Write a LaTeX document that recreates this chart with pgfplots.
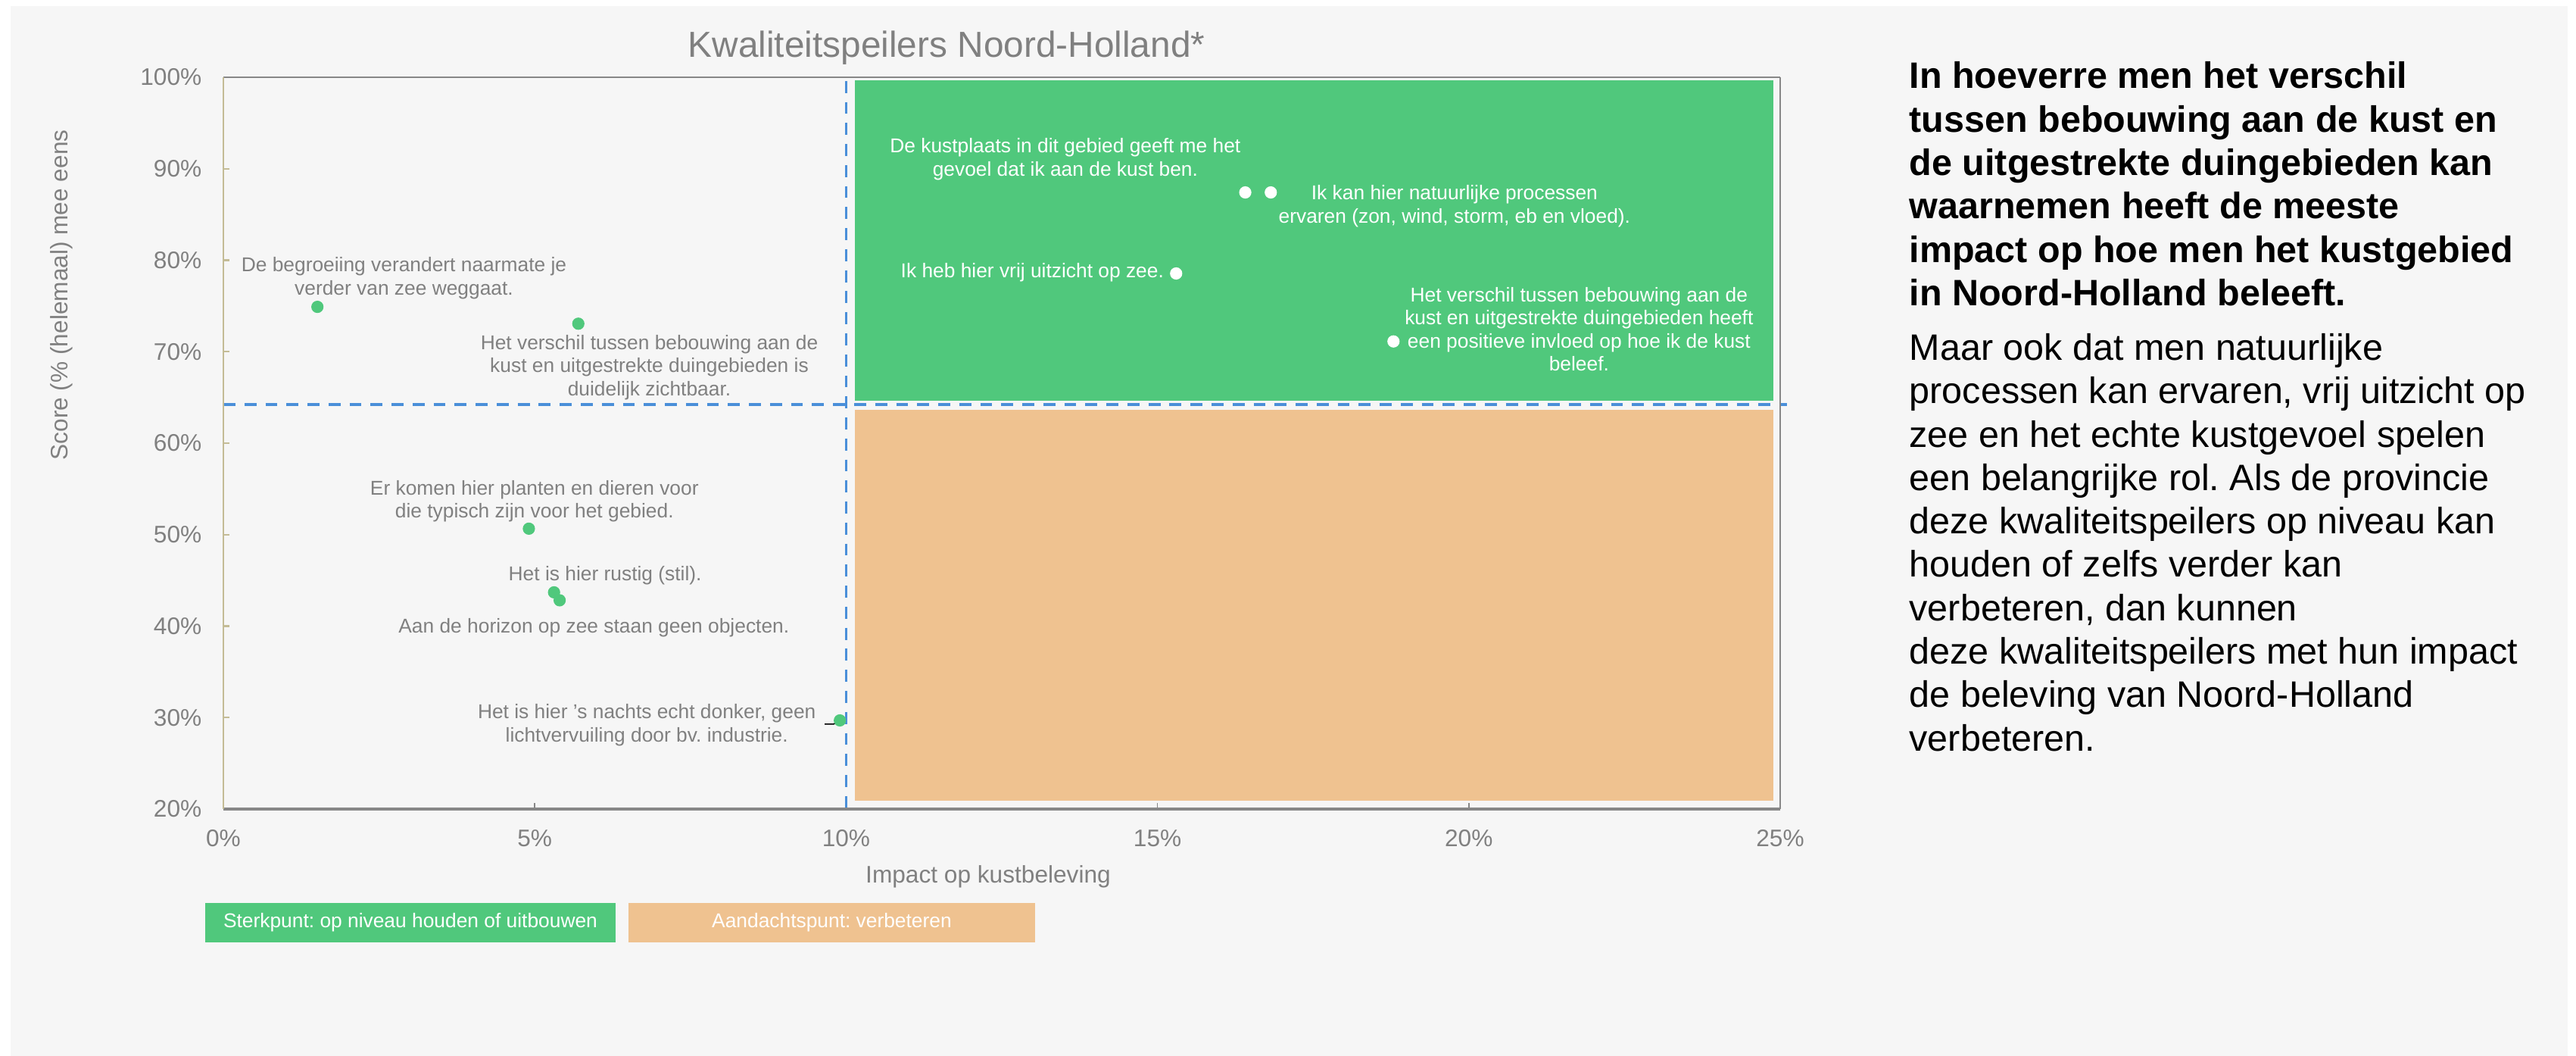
\documentclass[border=0pt]{standalone}
\usepackage{pgfplots}
\pgfplotsset{compat=1.18}
\usepackage{fontspec}
\setmainfont{Liberation Sans}
\frenchspacing
\definecolor{bgpanel}{HTML}{F6F6F6}
\definecolor{grn}{HTML}{50C87C}
\definecolor{orng}{HTML}{EFC290}
\definecolor{dblue}{HTML}{4A8FD9}
\definecolor{txtgray}{HTML}{808080}
\definecolor{axgray}{HTML}{878787}
\definecolor{axtan}{HTML}{C4BC96}
\tikzset{
  lbl/.style={font=\fontsize{7.5}{8.7}\selectfont, text=txtgray, align=center, inner sep=0pt, anchor=center},
  wlbl/.style={lbl, text=white},
  rb/.style={anchor=base west, inner sep=0pt, font=\fontsize{13.8}{16.3}\selectfont\bfseries},
  rr/.style={anchor=base west, inner sep=0pt, font=\fontsize{13.8}{16.3}\selectfont},
}
\begin{document}
\frenchspacing
\begin{tikzpicture}
\useasboundingbox (0,0) rectangle (34.02,13.94);
\fill[white] (0,0) rectangle (34.02,13.94);
\fill[bgpanel] (0.14,0) rectangle (33.91,13.86);
\begin{axis}[
  at={(2.95cm,3.26cm)}, anchor=south west,
  scale only axis, width=20.56cm, height=9.66cm,
  xmin=0, xmax=25, ymin=20, ymax=100,
  enlargelimits=false, clip=false,
  axis line style={draw=none},
  xtick={0,5,10,15,20,25},
  xticklabels={0\%,5\%,10\%,15\%,20\%,25\%},
  ytick={20,30,40,50,60,70,80,90,100},
  yticklabels={20\%,30\%,40\%,50\%,60\%,70\%,80\%,90\%,100\%},
  tick align=inside, xtick pos=left, ytick pos=left,
  major tick length=0.08cm,
  xtick style={draw=axgray, line width=0.5pt},
  ytick style={draw=axtan, line width=0.6pt},
  tick label style={font=\fontsize{9}{10.8}\selectfont, text=txtgray, inner sep=0pt},
  xticklabel style={anchor=north, yshift=-0.27cm},
  yticklabel style={anchor=east, xshift=-0.28cm},
]
% quadrant areas
\addplot[fill=grn, draw=none] coordinates {(10.14,64.64) (24.89,64.64) (24.89,99.67) (10.14,99.67)} -- cycle;
\addplot[fill=orng, draw=none] coordinates {(10.14,20.91) (24.89,20.91) (24.89,63.64) (10.14,63.64)} -- cycle;
% dashed reference lines
\addplot[dblue, line width=1.1pt, dash pattern=on 4.5pt off 3.4pt] coordinates {(0,64.22) (25.11,64.22)};
\addplot[dblue, line width=1.0pt, dash pattern=on 4.5pt off 3.4pt] coordinates {(10,99.6) (10,20)};
% frame
\draw[axgray, line width=1.1pt] (axis cs:0,20) -- (axis cs:25,20);
\draw[axgray, line width=0.75pt] (axis cs:0,100) -- (axis cs:25,100);
\draw[axgray, line width=0.75pt] (axis cs:25,20) -- (axis cs:25,100);
\draw[axtan, line width=0.65pt] (axis cs:0,20) -- (axis cs:0,100);
% leader line
\draw[black, line width=0.45pt] (axis cs:9.655,29.28) -- (axis cs:9.80,29.28) -- (axis cs:9.886,29.69);
% points
\addplot[only marks, mark=*, mark size=2.1pt, mark options={fill=grn, draw=grn}] coordinates {
  (1.51,74.90) (5.70,73.06) (4.906,50.65) (5.31,43.69) (5.40,42.82) (9.90,29.69)};
\addplot[only marks, mark=*, mark size=2.1pt, mark options={fill=white, draw=white}] coordinates {
  (15.30,78.55) (16.41,87.41) (16.82,87.41) (18.79,71.12)};
% labels
\node[lbl] at (axis cs:2.90,78.06) {De begroeiing verandert naarmate je\\verder van zee weggaat.};
\node[lbl] at (axis cs:6.84,68.28) {Het verschil tussen bebouwing aan de\\kust en uitgestrekte duingebieden is\\duidelijk zichtbaar.};
\node[lbl] at (axis cs:4.995,53.66) {Er komen hier planten en dieren voor\\die typisch zijn voor het gebied.};
\node[lbl] at (axis cs:6.13,45.52) {Het is hier rustig (stil).};
\node[lbl] at (axis cs:5.95,39.79) {Aan de horizon op zee staan geen objecten.};
\node[lbl] at (axis cs:6.80,29.16) {Het is hier ’s nachts echt donker, geen\\lichtvervuiling door bv. industrie.};
\node[wlbl] at (axis cs:12.99,78.63) {Ik heb hier vrij uitzicht op zee.};
\node[wlbl] at (axis cs:13.52,91.02) {De kustplaats in dit gebied geeft me het\\gevoel dat ik aan de kust ben.};
\node[wlbl] at (axis cs:19.77,85.90) {Ik kan hier natuurlijke processen\\ervaren (zon, wind, storm, eb en vloed).};
\node[wlbl] at (axis cs:21.77,72.46) {Het verschil tussen bebouwing aan de\\kust en uitgestrekte duingebieden heeft\\een positieve invloed op hoe ik de kust\\beleef.};
\end{axis}
% title and axis labels
\node[anchor=base west, inner sep=0pt, text=txtgray, font=\fontsize{13.6}{16}\selectfont] at (9.08,13.18) {Kwaliteitspeilers Noord-Holland*};
\node[anchor=base, inner sep=0pt, text=txtgray, font=\fontsize{9}{10.8}\selectfont] at (13.05,2.28) {Impact op kustbeleving};
\node[rotate=90, anchor=center, inner sep=0pt, text=txtgray, font=\fontsize{9}{10.8}\selectfont] at (0.81,10.045) {Score (\% (helemaal) mee eens};
% legend
\fill[grn] (2.71,1.50) rectangle (8.13,2.02);
\node[text=white, inner sep=0pt, font=\fontsize{7.5}{9}\selectfont] at (5.42,1.76) {Sterkpunt: op niveau houden of uitbouwen};
\fill[orng] (8.30,1.50) rectangle (13.67,2.02);
\node[text=white, inner sep=0pt, font=\fontsize{7.5}{9}\selectfont] at (10.985,1.76) {Aandachtspunt: verbeteren};
% right-hand text
\node[rb] at (25.21,12.770) {In hoeverre men het verschil};
\node[rb] at (25.21,12.197) {tussen bebouwing aan de kust en};
\node[rb] at (25.21,11.624) {de uitgestrekte duingebieden kan};
\node[rb] at (25.21,11.051) {waarnemen heeft de meeste};
\node[rb] at (25.21,10.478) {impact op hoe men het kustgebied};
\node[rb] at (25.21,9.905) {in Noord-Holland beleeft.};
\node[rr] at (25.21,9.185) {Maar ook dat men natuurlijke};
\node[rr] at (25.21,8.612) {processen kan ervaren, vrij uitzicht op};
\node[rr] at (25.21,8.039) {zee en het echte kustgevoel spelen};
\node[rr] at (25.21,7.466) {een belangrijke rol. Als de provincie};
\node[rr] at (25.21,6.893) {deze kwaliteitspeilers op niveau kan};
\node[rr] at (25.21,6.320) {houden of zelfs verder kan};
\node[rr] at (25.21,5.747) {verbeteren, dan kunnen};
\node[rr] at (25.21,5.174) {deze kwaliteitspeilers met hun impact};
\node[rr] at (25.21,4.601) {de beleving van Noord-Holland};
\node[rr] at (25.21,4.028) {verbeteren.};
\end{tikzpicture}
\end{document}
